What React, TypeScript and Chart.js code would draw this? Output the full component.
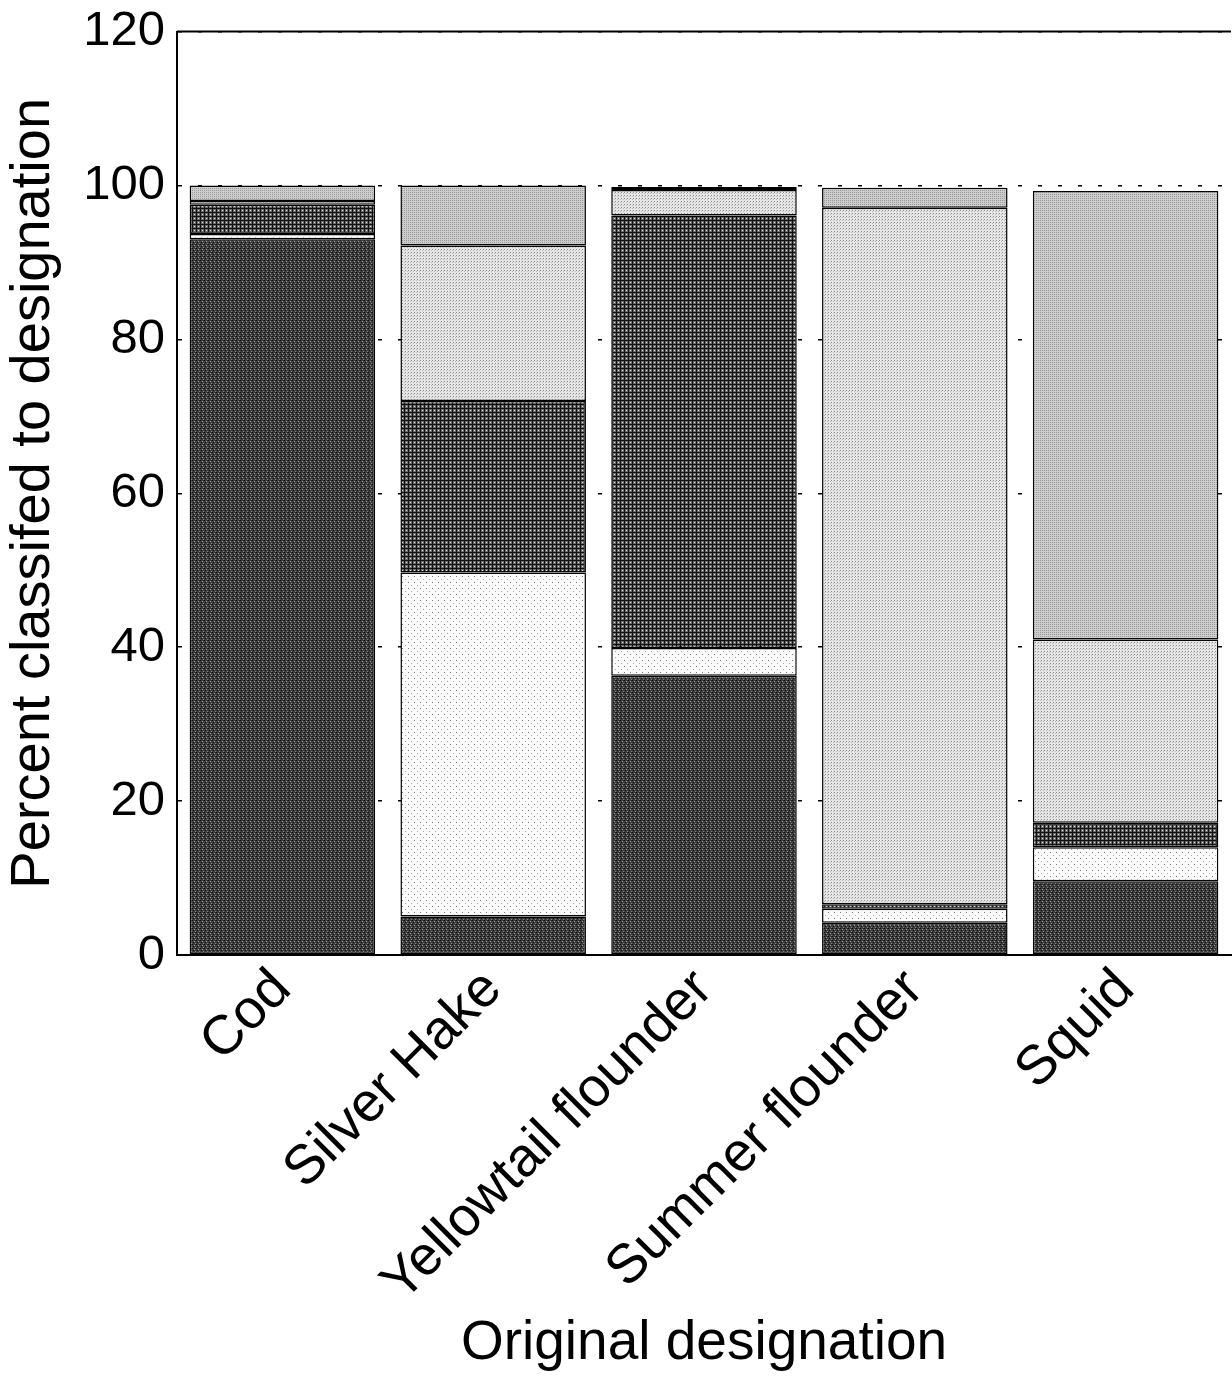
import React, { useEffect, useRef } from "react";
import { Chart, registerables } from "chart.js";

Chart.register(...registerables);

const categories = ["Cod", "Silver Hake", "Yellowtail flounder", "Summer flounder", "Squid"];
const codValues = [93.0, 5.0, 36.3, 4.2, 9.6];
const silverHakeValues = [0.7, 44.7, 3.6, 1.8, 4.4];
const yellowtailValues = [3.8, 22.3, 56.2, 0.6, 3.2];
const summerFlounderValues = [0.5, 20.2, 3.3, 90.5, 23.8];
const squidValues = [2.0, 7.8, 0.4, 2.6, 58.3];
const yTicks = [0, 20, 40, 60, 80, 100, 120];

const FONT = "'Liberation Sans', Arial, Helvetica, sans-serif";

function makePattern(size: number, base: string, dots: Array<[number, number, string]>) {
  const c = document.createElement("canvas");
  c.width = size;
  c.height = size;
  const g = c.getContext("2d")!;
  g.fillStyle = base;
  g.fillRect(0, 0, size, size);
  dots.forEach(([x, y, col]) => {
    g.fillStyle = col;
    g.fillRect(x, y, 1, 1);
  });
  return g.createPattern(c, "repeat")!;
}

const frameLines = {
  id: "frameLines",
  afterDraw(chart: any) {
    const { ctx, chartArea } = chart;
    ctx.save();
    ctx.strokeStyle = "#000";
    ctx.lineWidth = 2;
    ctx.beginPath();
    ctx.moveTo(chartArea.left, chartArea.top);
    ctx.lineTo(chartArea.right, chartArea.top);
    ctx.stroke();
    ctx.restore();
  },
};

export default function App() {
  const ref = useRef<HTMLCanvasElement>(null);
  useEffect(() => {
    if (!ref.current) return;
    const codPat = makePattern(4, "#3e3e3e", [
      [0, 0, "#111"], [2, 1, "#9a9a9a"], [1, 2, "#111"], [3, 3, "#808080"], [3, 0, "#222"],
    ]);
    const hakePat = makePattern(6, "#fbfbfb", [[0, 0, "#777"], [3, 3, "#aaa"]]);
    const ytPat = makePattern(4, "#6a6a6a", [
      [0, 0, "#111"], [1, 0, "#111"], [2, 0, "#111"], [3, 0, "#111"],
      [0, 1, "#111"], [0, 2, "#111"], [0, 3, "#111"], [2, 2, "#ddd"],
    ]);
    const sfPat = makePattern(3, "#e6e6e6", [[0, 0, "#8c8c8c"], [2, 1, "#bbb"]]);
    const sqPat = makePattern(2, "#cdcdcd", [[0, 0, "#9a9a9a"]]);

    const mk = (label: string, data: number[], bg: any) => ({
      label,
      data,
      backgroundColor: bg,
      borderColor: "#000",
      borderWidth: 1.5,
      borderSkipped: false,
      barPercentage: 0.88,
      categoryPercentage: 1.0,
    });

    const chart = new Chart(ref.current, {
      type: "bar",
      data: {
        labels: categories,
        datasets: [
          mk("Cod", codValues, codPat),
          mk("Silver Hake", silverHakeValues, hakePat),
          mk("Yellowtail flounder", yellowtailValues, ytPat),
          mk("Summer flounder", summerFlounderValues, sfPat),
          mk("Squid", squidValues, sqPat),
        ],
      },
      options: {
        responsive: false,
        animation: false,
        layout: { padding: { top: 30, right: 1, left: 0, bottom: 0 } },
        plugins: { legend: { display: false }, tooltip: { enabled: false } },
        scales: {
          x: {
            stacked: true,
            grid: { display: false, drawTicks: false },
            border: { display: true, color: "#000", width: 2 },
            ticks: {
              color: "#000",
              font: { family: FONT, size: 55 },
              maxRotation: 45,
              minRotation: 45,
              padding: 2,
              autoSkip: false,
            },
            title: {
              display: true,
              text: "Original designation",
              color: "#000",
              font: { family: FONT, size: 55 },
              padding: { top: 0, bottom: 0 },
            },
            afterFit: (scale: any) => {
              scale.height = 422;
            },
          },
          y: {
            stacked: true,
            min: 0,
            max: 120,
            afterBuildTicks: (scale: any) => {
              scale.ticks = yTicks.map((v) => ({ value: v }));
            },
            grid: {
              display: true,
              color: "#000",
              lineWidth: 1.5,
              drawTicks: false,
              tickBorderDash: [4, 16],
            },
            border: { display: true, color: "#000", width: 2, dash: [4, 16] },
            ticks: {
              color: "#000",
              font: { family: FONT, size: 49, lineHeight: 0.8 },
              padding: 12,
            },
            title: {
              display: true,
              text: "Percent classifed to designation",
              color: "#000",
              font: { family: FONT, size: 56 },
              padding: { top: 0, bottom: 0 },
            },
            afterFit: (scale: any) => {
              scale.width = 177;
            },
          },
        },
      },
      plugins: [frameLines],
    } as any);
    return () => chart.destroy();
  }, []);

  return (
    <canvas
      ref={ref}
      width={1232}
      height={1377}
      style={{ position: "absolute", left: 0, top: 0, width: 1232, height: 1377 }}
    />
  );
}
